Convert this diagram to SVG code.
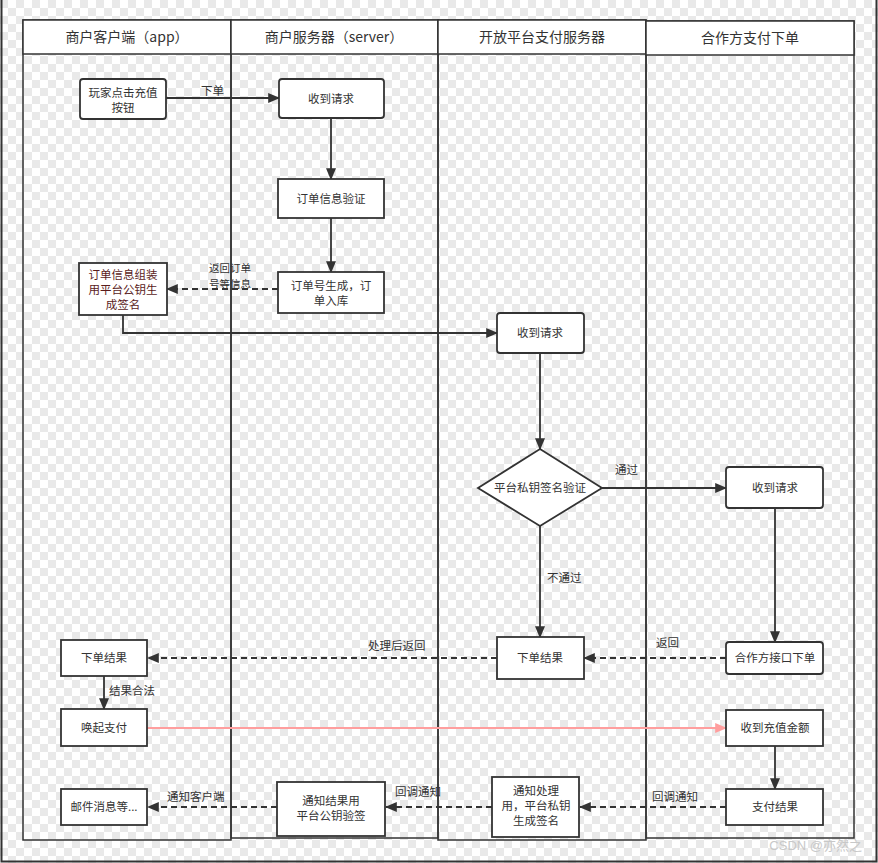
<svg xmlns="http://www.w3.org/2000/svg" width="878" height="863" viewBox="0 0 878 863">
<defs>
<pattern id="chk" width="16" height="16" patternUnits="userSpaceOnUse">
<rect width="16" height="16" fill="#ffffff"/>
<rect width="8" height="8" fill="#e9e9e9"/>
<rect x="8" y="8" width="8" height="8" fill="#e9e9e9"/>
</pattern>
<marker id="ah2" viewBox="0 0 10 10" refX="9" refY="5" markerWidth="12" markerHeight="10" markerUnits="userSpaceOnUse" orient="auto" preserveAspectRatio="none"><path d="M0,0 L10,5 L0,10 z" fill="#333"/></marker>
<marker id="ahp" viewBox="0 0 10 10" refX="9" refY="5" markerWidth="12" markerHeight="10" markerUnits="userSpaceOnUse" orient="auto" preserveAspectRatio="none"><path d="M0,0 L10,5 L0,10 z" fill="#ff9e9e"/></marker>
</defs>
<style>
.lane{fill:none;stroke:#333;stroke-width:1.5}
.hdr{fill:#fff;stroke:#333;stroke-width:1.5}
.ht{font-family:"Noto Sans CJK SC","Liberation Sans",sans-serif;font-size:14px;fill:#333;text-anchor:middle}
.box{fill:#fff;stroke:#333;stroke-width:1.8}
.t{font-family:"Noto Sans CJK SC","Liberation Sans",sans-serif;font-size:11.5px;fill:#333;text-anchor:middle}
.lbl{font-family:"Noto Sans CJK SC","Liberation Sans",sans-serif;font-size:11.5px;fill:#333}
.c{fill:none;stroke:#333;stroke-width:1.8;marker-end:url(#ah2)}
.d{fill:none;stroke:#333;stroke-width:1.8;stroke-dasharray:6,4;marker-end:url(#ah2)}
</style>
<rect width="878" height="863" fill="url(#chk)"/>
<path d="M1.5,0 V861.5 H876.5 V0" fill="none" stroke="#333" stroke-width="2"/>
<g id="lanes">
<g id="lane1"><rect class="lane" x="23" y="20" width="208" height="820"/><rect class="hdr" x="23" y="20" width="208" height="34"/><text class="ht" x="127" y="42">商户客户端（app）</text></g>
<g id="lane2"><rect class="lane" x="231" y="20" width="207" height="818"/><rect class="hdr" x="231" y="20" width="207" height="34"/><text class="ht" x="334" y="42">商户服务器（server）</text></g>
<g id="lane3"><rect class="lane" x="438" y="20" width="208" height="820"/><rect class="hdr" x="438" y="20" width="208" height="34"/><text class="ht" x="542" y="42">开放平台支付服务器</text></g>
<g id="lane4"><rect class="lane" x="646" y="21" width="208" height="817"/><rect class="hdr" x="646" y="21" width="208" height="34"/><text class="ht" x="750" y="43">合作方支付下单</text></g>
</g>
<g id="connectors">
<path class="c" d="M166,98 H279"/>
<text class="lbl" x="201" y="95">下单</text>
<path class="c" d="M331,118 V179"/>
<path class="c" d="M331,218 V272"/>
<path class="d" d="M278,289 H167"/>
<text class="lbl" x="209" y="272" style="font-size:10.5px">返回订单</text>
<text class="lbl" x="209" y="287.5" style="font-size:10.5px">号等信息</text>
<path class="c" d="M123,315 V333 H497"/>
<path class="c" d="M540,353 V449"/>
<path class="c" d="M602,488 H726"/>
<text class="lbl" x="615" y="474">通过</text>
<path class="c" d="M540,526 V637"/>
<text class="lbl" x="547" y="582">不通过</text>
<path class="c" d="M775,508 V642"/>
<path class="d" d="M726,658 H584"/>
<text class="lbl" x="656" y="647">返回</text>
<path class="d" d="M497,658 H148"/>
<text class="lbl" x="368" y="650">处理后返回</text>
<path class="c" d="M104,676 V709"/>
<text class="lbl" x="109" y="695">结果合法</text>
<path d="M147,728 H726" fill="none" stroke="#ff9e9e" stroke-width="1.8" marker-end="url(#ahp)"/>
<path class="c" d="M775,746 V789"/>
<path class="d" d="M726,807 H580"/>
<text class="lbl" x="652" y="801">回调通知</text>
<path class="d" d="M492,807 H386"/>
<text class="lbl" x="395" y="796">回调通知</text>
<path class="d" d="M277,807 H148"/>
<text class="lbl" x="167" y="801">通知客户端</text>
</g>
<g id="n1"><rect class="box" x="80" y="79" width="86" height="40" rx="3"/><text class="t" x="123" y="97">玩家点击充值</text><text class="t" x="123" y="112">按钮</text></g>
<g id="n2"><rect class="box" x="279" y="79" width="105" height="39" rx="3"/><text class="t" x="331" y="103">收到请求</text></g>
<g id="n3"><rect class="box" x="278" y="179" width="106" height="39"/><text class="t" x="331" y="203">订单信息验证</text></g>
<g id="n4"><rect class="box" x="278" y="272" width="106" height="41"/><text class="t" x="331" y="290">订单号生成，订</text><text class="t" x="331" y="305">单入库</text></g>
<g id="n5"><rect class="box" x="79" y="263" width="88" height="52"/><text class="t" x="123" y="279" style="fill:#5a1c1c">订单信息组装</text><text class="t" x="123" y="294" style="fill:#5a1c1c">用平台公钥生</text><text class="t" x="123" y="309" style="fill:#5a1c1c">成签名</text></g>
<g id="n6"><rect class="box" x="497" y="313" width="87" height="40" rx="3"/><text class="t" x="540" y="337">收到请求</text></g>
<g id="n7"><path class="box" d="M540,449 L602,488 L540,526 L478,488 Z"/><text class="t" x="540" y="492">平台私钥签名验证</text></g>
<g id="n8"><rect class="box" x="726" y="467" width="97" height="41" rx="3"/><text class="t" x="775" y="492">收到请求</text></g>
<g id="n9"><rect class="box" x="726" y="642" width="97" height="32" rx="3"/><text class="t" x="775" y="662">合作方接口下单</text></g>
<g id="n10"><rect class="box" x="497" y="637" width="87" height="42"/><text class="t" x="540" y="662">下单结果</text></g>
<g id="n11"><rect class="box" x="61" y="640" width="86" height="36"/><text class="t" x="104" y="662">下单结果</text></g>
<g id="n12"><rect class="box" x="61" y="709" width="86" height="37"/><text class="t" x="104" y="732">唤起支付</text></g>
<g id="n13"><rect class="box" x="726" y="710" width="97" height="36"/><text class="t" x="775" y="732">收到充值金额</text></g>
<g id="n14"><rect class="box" x="726" y="789" width="97" height="36"/><text class="t" x="775" y="811">支付结果</text></g>
<g id="n15"><rect class="box" x="492" y="777" width="87" height="60"/><text class="t" x="536" y="795">通知处理</text><text class="t" x="536" y="810">用，平台私钥</text><text class="t" x="536" y="825">生成签名</text></g>
<g id="n16"><rect class="box" x="277" y="782" width="108" height="54"/><text class="t" x="331" y="805">通知结果用</text><text class="t" x="331" y="820">平台公钥验签</text></g>
<g id="n17"><rect class="box" x="61" y="789" width="86" height="36"/><text class="t" x="104" y="811">邮件消息等...</text></g>
<text x="862" y="850" font-family="Liberation Sans,'Noto Sans CJK SC',sans-serif" font-size="13" fill="#c8c8c8" text-anchor="end">CSDN @亦然之</text>
</svg>
